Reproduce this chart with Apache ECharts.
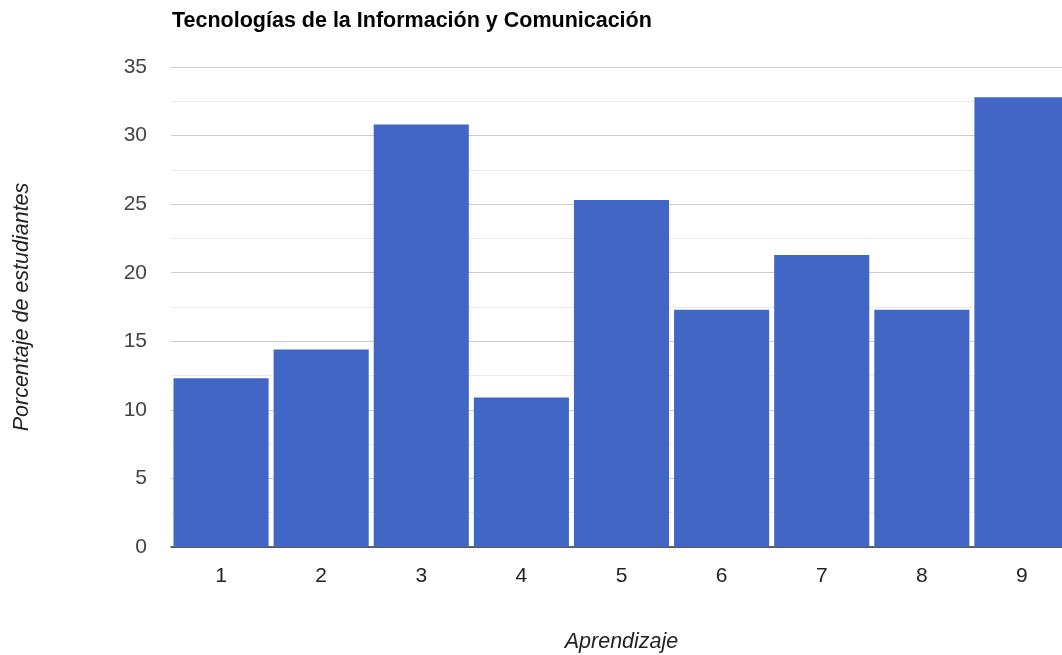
<!DOCTYPE html>
<html>
<head>
<meta charset="utf-8">
<script src="https://cdn.jsdelivr.net/npm/echarts@6/dist/echarts.min.js"></script>
<style>
  html, body { margin: 0; padding: 0; background: #fff; }
  #chart { width: 1062px; height: 655px; }
</style>
</head>
<body>
<div id="chart"></div>
<script>
// datos
var categorias = ['1', '2', '3', '4', '5', '6', '7', '8', '9'];
var porcentajes = [12.3, 14.4, 30.8, 10.9, 25.3, 17.3, 21.3, 17.3, 32.8];
var titulo = 'Tecnologías de la Información y Comunicación';

var chart = echarts.init(document.getElementById('chart'));
chart.setOption({
    animation: false,
    title: {
        text: titulo,
        left: 167,
        top: 5,
        textStyle: {
            fontFamily: 'Liberation Sans, Arial',
            fontSize: 21.5,
            fontWeight: 'bold',
            color: '#000'
        }
    },
    //布局 (se sale por la derecha como en la imagen)
    grid: {
        left: 171,
        top: 67,
        width: 901,
        height: 480,
        outerBoundsMode: 'none'
    },
    xAxis: {
        type: 'category',
        data: categorias,
        name: 'Aprendizaje',
        nameLocation: 'middle',
        nameGap: 84,
        nameTextStyle: {
            fontFamily: 'Liberation Sans, Arial',
            fontSize: 21.5,
            fontStyle: 'italic',
            color: '#222'
        },
        axisLine: { lineStyle: { color: '#333', width: 1.5 } },
        axisTick: { show: false },
        axisLabel: {
            fontFamily: 'Liberation Sans, Arial',
            fontSize: 21,
            color: '#222',
            margin: 19
        }
    },
    yAxis: {
        type: 'value',
        min: 0,
        max: 35,
        interval: 5,
        name: 'Porcentaje de estudiantes',
        nameLocation: 'middle',
        nameGap: 138,
        nameTextStyle: {
            fontFamily: 'Liberation Sans, Arial',
            fontSize: 21.5,
            fontStyle: 'italic',
            color: '#222'
        },
        axisLine: { show: false },
        axisTick: { show: false },
        axisLabel: {
            fontFamily: 'Liberation Sans, Arial',
            fontSize: 21,
            color: '#444',
            margin: 24
        },
        splitLine: { lineStyle: { color: '#cccccc', width: 1 } },
        minorTick: { show: false, splitNumber: 2 },
        minorSplitLine: { show: true, lineStyle: { color: '#ebebeb', width: 1 } }
    },
    series: [
        {
            type: 'bar',
            data: porcentajes,
            barCategoryGap: '5%',
            itemStyle: { color: '#4166c6' }
        }
    ]
});
</script>
</body>
</html>
